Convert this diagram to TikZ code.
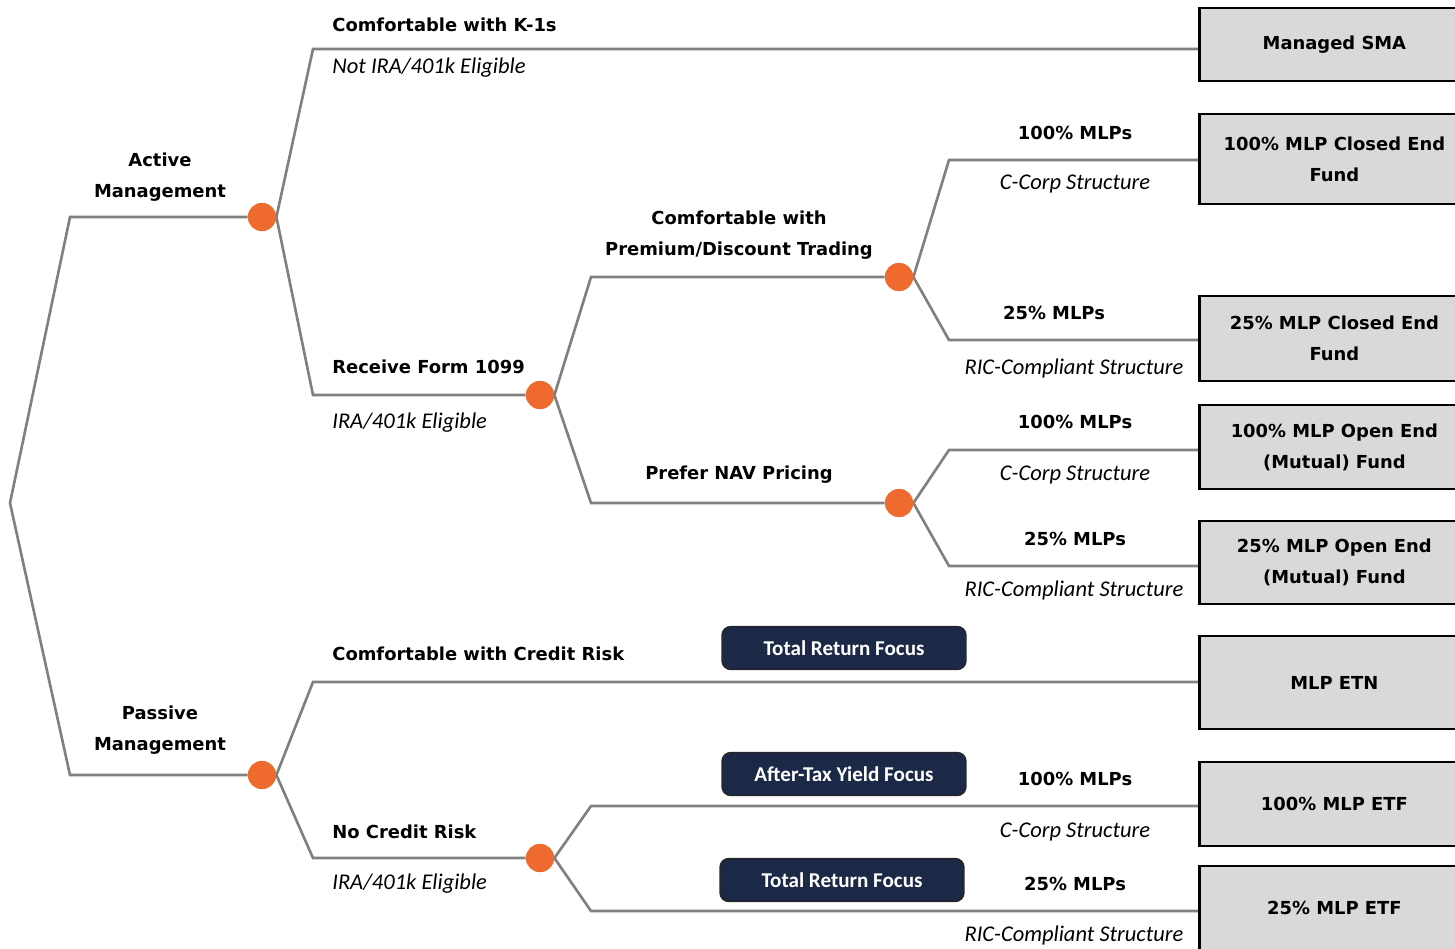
\documentclass[tikz,border=0pt]{standalone}
\usepackage{fontspec}
\setmainfont{DejaVu Sans}
\newfontfamily\calfont{Carlito}
\usetikzlibrary{positioning}

\definecolor{branchgray}{HTML}{808080}
\definecolor{dotorange}{HTML}{EF6A2F}
\definecolor{boxgray}{HTML}{D9D9D9}
\definecolor{focusnavy}{HTML}{1B2947}

\begin{document}
\begin{tikzpicture}[
  x=0.02cm, y=-0.02cm,
  branch/.style={line width=1.5pt, draw=branchgray, line join=miter},
  choice/.style={circle, fill=dotorange, minimum size=16pt, inner sep=0pt},
  pathlabel/.style={font=\fontsize{10.2}{17.6}\selectfont\bfseries, align=center, inner sep=0pt},
  pathnote/.style={font=\calfont\itshape\fontsize{12.8}{14}\selectfont, inner sep=0pt},
  fundbox/.style={draw=black, line width=1.6pt, fill=boxgray, anchor=west, minimum width=5.4cm,
    font=\fontsize{10.2}{17.6}\selectfont\bfseries, align=center, inner sep=2pt},
  focusbox/.style={draw=black!85, fill=focusnavy, rounded corners=5pt, text=white, line width=0.8pt,
    minimum width=4.88cm, minimum height=0.86cm, font=\calfont\bfseries\fontsize{12}{14}\selectfont}
]
\clip (0,0) rectangle (1455,948);

% decision points
\node[choice] (Active)   at (262,217) {};
\node[choice] (Passive)  at (262,775) {};
\node[choice] (Form)     at (540,395) {};
\node[choice] (Premium)  at (899,277) {};
\node[choice] (NAV)      at (899,503) {};
\node[choice] (NoCredit) at (540,858) {};

% branch corners
\coordinate (Root)  at (10,503);
\coordinate (ActUp) at (70,217);
\coordinate (PasDn) at (70,775);
\coordinate (K1)    at (313,49);
\coordinate (F1099) at (313,395);
\coordinate (Prem)  at (591,277);
\coordinate (NavC)  at (591,503);
\coordinate (CE100) at (949,160);
\coordinate (CE25)  at (949,340);
\coordinate (OE100) at (949,450);
\coordinate (OE25)  at (949,566);
\coordinate (Cred)  at (313,682);
\coordinate (NCr)   at (313,858);
\coordinate (ETF100) at (591,806);
\coordinate (ETF25) at (591,911);

% outcome boxes
\node[fundbox, minimum height=1.46cm] (SMA)    at (1198,44.5)  {Managed SMA};
\node[fundbox, minimum height=1.80cm] (CEF100) at (1198,159)   {100\% MLP Closed End\\Fund};
\node[fundbox, minimum height=1.70cm] (CEF25)  at (1198,338.5) {25\% MLP Closed End\\Fund};
\node[fundbox, minimum height=1.68cm] (OEF100) at (1198,447)   {100\% MLP Open End\\(Mutual) Fund};
\node[fundbox, minimum height=1.66cm] (OEF25)  at (1198,562.5) {25\% MLP Open End\\(Mutual) Fund};
\node[fundbox, minimum height=1.86cm] (ETN)    at (1198,682.5) {MLP ETN};
\node[fundbox, minimum height=1.68cm] (ETFa)   at (1198,804)   {100\% MLP ETF};
\node[fundbox, minimum height=1.68cm] (ETFb)   at (1198,908)   {25\% MLP ETF};

% branches
\draw[branch] (Active.west) -- (ActUp) -- (Root) -- (PasDn) -- (Passive.west);
\draw[branch] (Active.east) -- (K1) -- (K1 -| SMA.west);
\draw[branch] (Active.east) -- (F1099) -- (Form.west);
\draw[branch] (Form.east) -- (Prem) -- (Premium.west);
\draw[branch] (Form.east) -- (NavC) -- (NAV.west);
\draw[branch] (Premium.east) -- (CE100) -- (CE100 -| CEF100.west);
\draw[branch] (Premium.east) -- (CE25) -- (CE25 -| CEF25.west);
\draw[branch] (NAV.east) -- (OE100) -- (OE100 -| OEF100.west);
\draw[branch] (NAV.east) -- (OE25) -- (OE25 -| OEF25.west);
\draw[branch] (Passive.east) -- (Cred) -- (Cred -| ETN.west);
\draw[branch] (Passive.east) -- (NCr) -- (NoCredit.west);
\draw[branch] (NoCredit.east) -- (ETF100) -- (ETF100 -| ETFa.west);
\draw[branch] (NoCredit.east) -- (ETF25) -- (ETF25 -| ETFb.west);

% redraw dots above the lines
\foreach \d in {Active, Passive, Form, Premium, NAV, NoCredit}
  \fill[dotorange] (\d) circle (8pt);

% labels
\node[pathlabel] (ActLbl) at (160,177) {Active\\Management};
\node[pathlabel] (PasLbl) at (160,730) {Passive\\Management};
\node[pathlabel, anchor=west] (K1Lbl) at (332,25) {Comfortable with K-1s};
\node[pathnote, anchor=west] (K1Note) at (332,68) {Not IRA/401k Eligible};
\node[pathlabel, anchor=west] (FormLbl) at (332,367) {Receive Form 1099};
\node[pathnote, anchor=west] (FormNote) at (332,423) {IRA/401k Eligible};
\node[pathlabel] (PremLbl) at (739,235) {Comfortable with\\Premium/Discount Trading};
\node[pathlabel] (NavLbl) at (739,475) {Prefer NAV Pricing};
\node[pathlabel] (CE100Lbl) at (1075,133) {100\% MLPs};
\node[pathnote] (CE100Note) at (1075,184) {C-Corp Structure};
\node[pathlabel] (CE25Lbl) at (1054,313) {25\% MLPs};
\node[pathnote] (CE25Note) at (1074,368) {RIC-Compliant Structure};
\node[pathlabel] (OE100Lbl) at (1075,422) {100\% MLPs};
\node[pathnote] (OE100Note) at (1075,475) {C-Corp Structure};
\node[pathlabel] (OE25Lbl) at (1075,539) {25\% MLPs};
\node[pathnote] (OE25Note) at (1074,590) {RIC-Compliant Structure};
\node[pathlabel, anchor=west] (CredLbl) at (332,654) {Comfortable with Credit Risk};
\node[pathlabel, anchor=west] (NCrLbl) at (332,832) {No Credit Risk};
\node[pathnote, anchor=west] (NCrNote) at (332,884) {IRA/401k Eligible};
\node[pathlabel] (ETF100Lbl) at (1075,779) {100\% MLPs};
\node[pathnote] (ETF100Note) at (1075,832) {C-Corp Structure};
\node[pathlabel] (ETF25Lbl) at (1075,884) {25\% MLPs};
\node[pathnote] (ETF25Note) at (1074,935) {RIC-Compliant Structure};

% focus tags
\node[focusbox] (TRF1) at (844,648) {Total Return Focus};
\node[focusbox] (ATY)  at (844,774) {After-Tax Yield Focus};
\node[focusbox] (TRF2) at (842,880) {Total Return Focus};

\end{tikzpicture}
\end{document}
